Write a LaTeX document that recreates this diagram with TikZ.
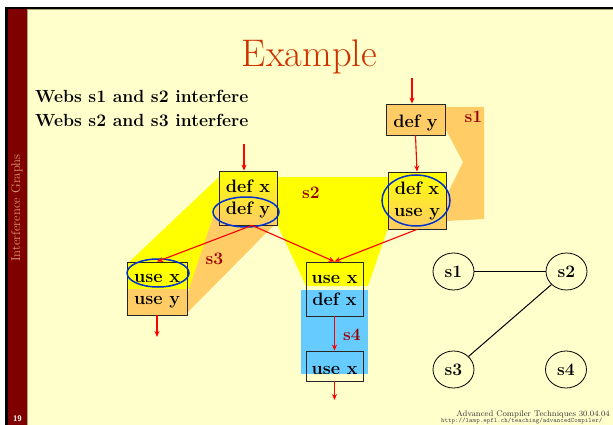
\documentclass[tikz,border=0pt]{standalone}
\usepackage{fontspec}
\usetikzlibrary{shapes.geometric,arrows.meta}
\definecolor{cream}{HTML}{FFFFCC}
\definecolor{sideRed}{HTML}{800000}
\definecolor{sideTxt}{HTML}{D8A070}
\definecolor{titleRed}{HTML}{CC3300}
\definecolor{wYel}{HTML}{FFFF00}
\definecolor{wOrg}{HTML}{FFCC66}
\definecolor{wBlue}{HTML}{66CCFF}
\definecolor{lblRed}{HTML}{990000}
\definecolor{hlBlue}{HTML}{0033CC}
\definecolor{arRed}{HTML}{FF0000}
\definecolor{edgeTan}{HTML}{A8A878}
\newcommand\bxst{\rule[-2.5pt]{0pt}{16.5pt}}
\begin{document}
\begin{tikzpicture}[x=1pt,y=-1pt,
  box/.style={draw=black!85, line width=0.8pt, rectangle, inner sep=0pt, align=center, font=\fontsize{18}{22}\selectfont\bfseries},
  onebox/.style={box, text height=17pt, text depth=0pt},
  arr/.style={draw=arRed, line width=1.1pt, -{Stealth[length=6pt,width=5pt]}},
  lbl/.style={text=lblRed, font=\fontsize{17.5}{20}\selectfont\bfseries, anchor=base, inner sep=0pt},
  hl/.style={draw=hlBlue, line width=1.5pt},
  gnode/.style={ellipse, draw, line width=0.8pt, minimum width=41pt, minimum height=37pt, inner sep=0pt, font=\fontsize{17.5}{20}\selectfont\bfseries},
  gedge/.style={line width=1pt},
  plain/.style={inner sep=0pt, font=\fontsize{17.6}{20}\selectfont\bfseries, anchor=base west}]

\useasboundingbox (0,0) rectangle (613,425);
\fill[white] (0,0) rectangle (613,425);
\fill[cream] (28,10) rectangle (613,425);
\fill[black] (5,7) rectangle (613,9.5);
\fill[edgeTan] (8,9.5) rectangle (613,10.5);
\fill[black] (5,7) rectangle (8,425);
\fill[sideRed] (8,9.5) rectangle (27,425);
\fill[edgeTan] (27,10) rectangle (28,425);

\node[rotate=90, text=sideTxt, font=\fontsize{12.7}{14}\selectfont, inner sep=0pt] (side) at (17,208) {Interference Graphs};
\node[text=white, font=\sffamily\bfseries\fontsize{8}{9}\selectfont, inner sep=0pt] (pg) at (17.5,419) {19};

\node[anchor=base, text=titleRed, font=\fontsize{38.5}{40}\selectfont, inner sep=0pt] (title) at (309.5,67) {Example};
\node[plain] (w1) at (35,103) {Webs s1 and s2 interfere};
\node[plain] (w2) at (35,127) {Webs s2 and s3 interfere};

% webs
\fill[wYel] (128,263) -- (219,177) -- (388,177) -- (388,228) -- (368,286) -- (306,286) -- (277,224) -- (250,224) -- (200,289) -- (128,289) -- cycle;
\fill[wOrg] (217,205) -- (277,205) -- (277,222) -- (186,314) -- (186,298) -- cycle;
\fill[wOrg] (127,289) rectangle (187,315);
\fill[wOrg] (444,107) -- (484,107) -- (484,219) -- (446,221) -- (446,197) -- (463,162) -- (446,130) -- (444,130) -- cycle;
\fill[wBlue] (301,290) rectangle (368,374);

% boxes
\node[onebox, fill=wOrg, minimum width=59pt, minimum height=31pt] (dy) at (415.5,119.5) {def y};
\node[box, top color=wYel, bottom color=wOrg, minimum width=58pt, minimum height=57pt] (R) at (417,200.5) {\bxst def x\\use y\bxst};
\node[box, top color=wYel, bottom color=wOrg, minimum width=58pt, minimum height=54pt] (L) at (248,198) {\bxst def x\\def y\bxst};
\node[box, minimum width=60pt, minimum height=53pt] (LB) at (157,288.5) {\bxst use x\\use y\bxst};
\node[box, minimum width=57pt, minimum height=54pt] (M) at (334.5,289) {\bxst use x\\def x\bxst};
\node[onebox, minimum width=57pt, minimum height=30pt] (MB) at (334.5,366) {use x};

% highlights
\draw[hl] (246,212) ellipse [x radius=33pt, y radius=15pt];
\draw[hl] (416,200.5) ellipse [x radius=34pt, y radius=25.5pt];
\draw[hl] (158,273) ellipse [x radius=31pt, y radius=14pt];

% arrows
\coordinate (dyIn) at (412,78);
\coordinate (LIn) at (244,144);
\coordinate (LBout) at (158,337);
\coordinate (MBout) at (336,400);
\draw[arr] (dyIn) -- (dyIn |- dy.north);
\draw[arr] (dy.south) -- (R.north);
\draw[arr] (LIn) -- (LIn |- L.north);
\draw[arr] ([xshift=4pt]L.south) -- (LB.north);
\draw[arr] ([xshift=4pt]L.south) -- (M.north);
\draw[arr] (R.south) -- (M.north);
\draw[arr] (LB.south) -- (LB.south |- LBout);
\draw[arr] (M.south) -- (MB.north);
\draw[arr] (MB.south) -- (MB.south |- MBout);

% web labels
\node[lbl] (ls1) at (473.5,123) {s1};
\node[lbl] (ls2) at (311,198) {s2};
\node[lbl] (ls3) at (214.5,264) {s3};
\node[lbl] (ls4) at (352,340) {s4};

% interference graph
\node[gnode] (g1) at (453.5,271.5) {s1};
\node[gnode] (g2) at (566.5,271.5) {s2};
\node[gnode] (g3) at (453.5,369.5) {s3};
\node[gnode] (g4) at (566,369.5) {s4};
\draw[gedge] (g1) -- (g2);
\draw[gedge] (g2) -- (g3);

% footer
\node[anchor=base east, inner sep=0pt, font=\fontsize{8.2}{10}\selectfont, text=black!80] (foot) at (610,416) {Advanced Compiler Techniques 30.04.04};
\node[anchor=base west, inner sep=0pt, font=\ttfamily\fontsize{6.6}{8}\selectfont, text=black!70] (url) at (441,422.5) {http://lamp.epfl.ch/teaching/advancedCompiler/};
\end{tikzpicture}
\end{document}
